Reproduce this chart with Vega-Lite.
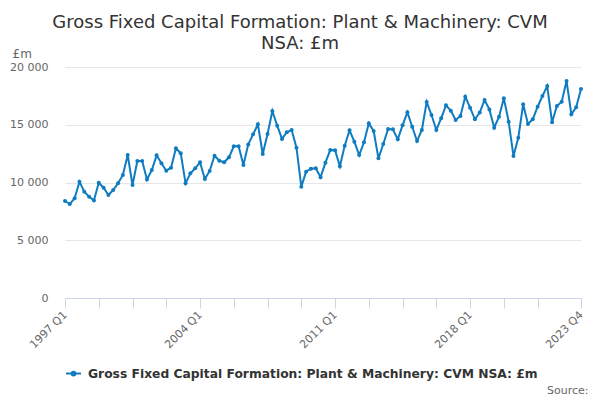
{
  "$schema": "https://vega.github.io/schema/vega-lite/v6.json",
  "autosize": {"type": "none"},
  "padding": {"left": 65, "top": 67, "right": 19, "bottom": 102},
  "width": 516,
  "height": 231,
  "background": "white",
  "title": {
    "text": ["Gross Fixed Capital Formation: Plant & Machinery: CVM", "NSA: £m"],
    "font": "DejaVu Sans",
    "fontSize": 18,
    "fontWeight": "normal",
    "color": "#333333",
    "lineHeight": 21,
    "anchor": "middle",
    "frame": "group",
    "dx": -23,
    "dy": 3,
    "offset": -3
  },
  "config": {
    "view": {"stroke": null},
    "font": "DejaVu Sans"
  },
  "data": {
    "values": [
      {"quarter": "1997 Q1", "value": 8400}, {"quarter": "1997 Q2", "value": 8140}, {"quarter": "1997 Q3", "value": 8630}, {"quarter": "1997 Q4", "value": 10070},
      {"quarter": "1998 Q1", "value": 9200}, {"quarter": "1998 Q2", "value": 8770}, {"quarter": "1998 Q3", "value": 8450}, {"quarter": "1998 Q4", "value": 9980},
      {"quarter": "1999 Q1", "value": 9550}, {"quarter": "1999 Q2", "value": 8920}, {"quarter": "1999 Q3", "value": 9350}, {"quarter": "1999 Q4", "value": 9930},
      {"quarter": "2000 Q1", "value": 10650}, {"quarter": "2000 Q2", "value": 12380}, {"quarter": "2000 Q3", "value": 9780}, {"quarter": "2000 Q4", "value": 11860},
      {"quarter": "2001 Q1", "value": 11860}, {"quarter": "2001 Q2", "value": 10270}, {"quarter": "2001 Q3", "value": 11080}, {"quarter": "2001 Q4", "value": 12350},
      {"quarter": "2002 Q1", "value": 11660}, {"quarter": "2002 Q2", "value": 11020}, {"quarter": "2002 Q3", "value": 11280}, {"quarter": "2002 Q4", "value": 12960},
      {"quarter": "2003 Q1", "value": 12530}, {"quarter": "2003 Q2", "value": 9930}, {"quarter": "2003 Q3", "value": 10800}, {"quarter": "2003 Q4", "value": 11230},
      {"quarter": "2004 Q1", "value": 11750}, {"quarter": "2004 Q2", "value": 10300}, {"quarter": "2004 Q3", "value": 11000}, {"quarter": "2004 Q4", "value": 12320},
      {"quarter": "2005 Q1", "value": 11890}, {"quarter": "2005 Q2", "value": 11750}, {"quarter": "2005 Q3", "value": 12180}, {"quarter": "2005 Q4", "value": 13130},
      {"quarter": "2006 Q1", "value": 13130}, {"quarter": "2006 Q2", "value": 11520}, {"quarter": "2006 Q3", "value": 13300}, {"quarter": "2006 Q4", "value": 14170},
      {"quarter": "2007 Q1", "value": 15040}, {"quarter": "2007 Q2", "value": 12470}, {"quarter": "2007 Q3", "value": 14200}, {"quarter": "2007 Q4", "value": 16190},
      {"quarter": "2008 Q1", "value": 14920}, {"quarter": "2008 Q2", "value": 13770}, {"quarter": "2008 Q3", "value": 14350}, {"quarter": "2008 Q4", "value": 14550},
      {"quarter": "2009 Q1", "value": 13010}, {"quarter": "2009 Q2", "value": 9640}, {"quarter": "2009 Q3", "value": 10940}, {"quarter": "2009 Q4", "value": 11200},
      {"quarter": "2010 Q1", "value": 11230}, {"quarter": "2010 Q2", "value": 10450}, {"quarter": "2010 Q3", "value": 11720}, {"quarter": "2010 Q4", "value": 12810},
      {"quarter": "2011 Q1", "value": 12790}, {"quarter": "2011 Q2", "value": 11400}, {"quarter": "2011 Q3", "value": 13190}, {"quarter": "2011 Q4", "value": 14520},
      {"quarter": "2012 Q1", "value": 13530}, {"quarter": "2012 Q2", "value": 12380}, {"quarter": "2012 Q3", "value": 13480}, {"quarter": "2012 Q4", "value": 15120},
      {"quarter": "2013 Q1", "value": 14460}, {"quarter": "2013 Q2", "value": 12090}, {"quarter": "2013 Q3", "value": 13330}, {"quarter": "2013 Q4", "value": 14630},
      {"quarter": "2014 Q1", "value": 14600}, {"quarter": "2014 Q2", "value": 13740}, {"quarter": "2014 Q3", "value": 14950}, {"quarter": "2014 Q4", "value": 16080},
      {"quarter": "2015 Q1", "value": 14830}, {"quarter": "2015 Q2", "value": 13590}, {"quarter": "2015 Q3", "value": 14550}, {"quarter": "2015 Q4", "value": 16970},
      {"quarter": "2016 Q1", "value": 15840}, {"quarter": "2016 Q2", "value": 14550}, {"quarter": "2016 Q3", "value": 15560}, {"quarter": "2016 Q4", "value": 16680},
      {"quarter": "2017 Q1", "value": 16220}, {"quarter": "2017 Q2", "value": 15410}, {"quarter": "2017 Q3", "value": 15760}, {"quarter": "2017 Q4", "value": 17430},
      {"quarter": "2018 Q1", "value": 16480}, {"quarter": "2018 Q2", "value": 15470}, {"quarter": "2018 Q3", "value": 16050}, {"quarter": "2018 Q4", "value": 17140},
      {"quarter": "2019 Q1", "value": 16330}, {"quarter": "2019 Q2", "value": 14740}, {"quarter": "2019 Q3", "value": 15700}, {"quarter": "2019 Q4", "value": 17290},
      {"quarter": "2020 Q1", "value": 15270}, {"quarter": "2020 Q2", "value": 12290}, {"quarter": "2020 Q3", "value": 13880}, {"quarter": "2020 Q4", "value": 16770},
      {"quarter": "2021 Q1", "value": 15070}, {"quarter": "2021 Q2", "value": 15470}, {"quarter": "2021 Q3", "value": 16560}, {"quarter": "2021 Q4", "value": 17490},
      {"quarter": "2022 Q1", "value": 18350}, {"quarter": "2022 Q2", "value": 15210}, {"quarter": "2022 Q3", "value": 16620}, {"quarter": "2022 Q4", "value": 17000},
      {"quarter": "2023 Q1", "value": 18790}, {"quarter": "2023 Q2", "value": 15900}, {"quarter": "2023 Q3", "value": 16510}, {"quarter": "2023 Q4", "value": 18100}
    ]
  },
  "transform": [
    {"calculate": "'Gross Fixed Capital Formation: Plant & Machinery: CVM NSA: £m'", "as": "series"}
  ],
  "mark": {"type": "line", "strokeWidth": 2, "point": {"filled": true, "size": 16}},
  "encoding": {
    "x": {
      "field": "quarter",
      "type": "ordinal",
      "sort": null,
      "scale": {"type": "point", "padding": 0},
      "axis": {
        "values": ["1997 Q1", "1998 Q4", "2000 Q3", "2002 Q2", "2004 Q1", "2005 Q4", "2007 Q3", "2009 Q2", "2011 Q1", "2012 Q4", "2014 Q3", "2016 Q2", "2018 Q1", "2019 Q4", "2021 Q3", "2023 Q4"],
        "labelExpr": "indexof(['1997 Q1','2004 Q1','2011 Q1','2018 Q1','2023 Q4'], datum.value) >= 0 ? datum.value : ''",
        "labelAngle": -45,
        "labelAlign": "right",
        "labelBaseline": "middle",
        "labelFontSize": 11,
        "labelColor": "#666666",
        "labelPadding": 5,
        "labelOverlap": false,
        "domainColor": "#ccd6eb",
        "tickColor": "#ccd6eb",
        "tickSize": 10,
        "grid": false,
        "title": "Source:",
        "titleFontSize": 11,
        "titleFontWeight": "normal",
        "titleColor": "#666666",
        "titleAlign": "right",
        "titleBaseline": "middle",
        "titleX": 523,
        "titleY": 92
      }
    },
    "y": {
      "field": "value",
      "type": "quantitative",
      "scale": {"domain": [0, 20000], "nice": false},
      "axis": {
        "values": [0, 5000, 10000, 15000, 20000],
        "labelExpr": "replace(format(datum.value, ','), ',', ' ')",
        "labelFontSize": 11,
        "labelColor": "#666666",
        "labelPadding": 17,
        "ticks": false,
        "domain": false,
        "gridColor": "#e6e6e6",
        "title": "£m",
        "titleAngle": 0,
        "titleAlign": "left",
        "titleBaseline": "middle",
        "titleFontSize": 12,
        "titleFontWeight": "normal",
        "titleColor": "#666666",
        "titleX": -53,
        "titleY": -14
      }
    },
    "color": {
      "field": "series",
      "type": "nominal",
      "scale": {"range": ["#0f7cc1"]},
      "legend": {
        "title": null,
        "orient": "none",
        "legendX": 0,
        "legendY": 298,
        "padding": 0,
        "labelFontSize": 12.3,
        "labelFontWeight": "bold",
        "labelColor": "#333333",
        "labelLimit": 600,
        "symbolType": "M-1,0L1,0M-0.25,0A0.25,0.25,0,1,0,0.25,0A0.25,0.25,0,1,0,-0.25,0Z",
        "symbolSize": 225,
        "symbolStrokeWidth": 2,
        "symbolFillColor": "#0f7cc1",
        "labelOffset": 6
      }
    }
  }
}
